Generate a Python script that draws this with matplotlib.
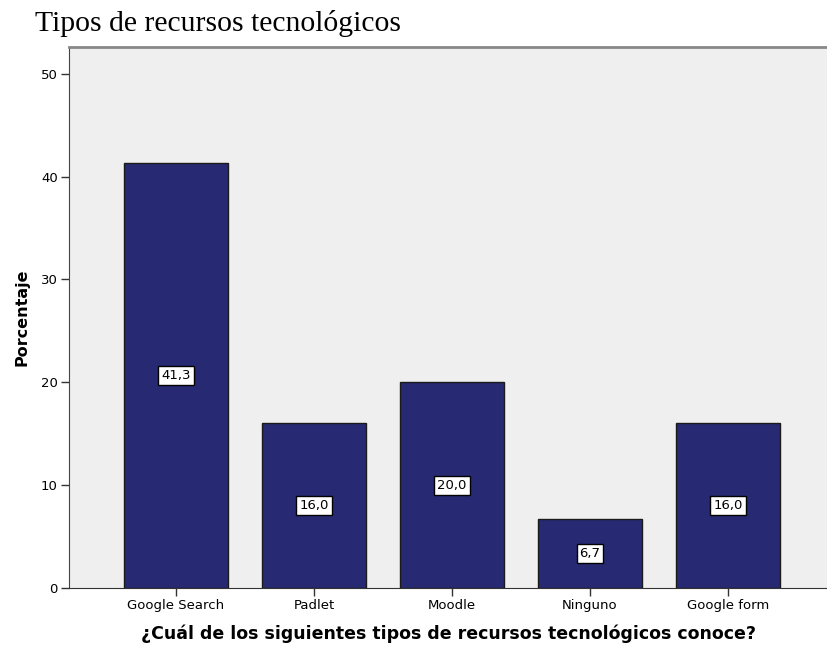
import matplotlib.pyplot as plt

categorias = ['Google Search', 'Padlet', 'Moodle', 'Ninguno', 'Google form']
porcentajes = [41.3, 16.0, 20.0, 6.7, 16.0]
etiquetas = ['41,3', '16,0', '20,0', '6,7', '16,0']
yticks = [0, 10, 20, 30, 40, 50]

fig = plt.figure(figsize=(8.28, 6.5), dpi=100)
ax = fig.add_axes([0.0833, 0.0954, 0.9167, 0.8323])
ax.set_facecolor('#efefef')

x = list(range(len(categorias)))
ax.bar(x, porcentajes, width=0.754, color='#272a73', edgecolor='#1a1a1a', linewidth=1, zorder=2)

# etiquetas en el centro de cada barra
for xi, v, txt in zip(x, porcentajes, etiquetas):
    ax.text(xi, v / 2, txt, ha='center', va='center', fontsize=9.5, color='black', zorder=3,
            bbox=dict(boxstyle='square,pad=0.22', facecolor='white', edgecolor='black', linewidth=1))

ax.set_xlim(-0.775, 4.725)
ax.set_ylim(0, 52.6)
ax.set_xticks(x)
ax.set_xticklabels(categorias, fontsize=9.5)
ax.set_yticks(yticks)
ax.set_yticklabels([str(t) for t in yticks], fontsize=9.5)
ax.tick_params(axis='both', length=6, width=1, color='#333333', pad=2)

ax.spines['right'].set_visible(False)
ax.spines['top'].set_color('#888888')
ax.spines['top'].set_linewidth(2)
ax.spines['left'].set_color('#444444')
ax.spines['bottom'].set_color('#333333')

ax.set_ylabel('Porcentaje', fontsize=11.5, fontweight='bold', labelpad=8)
ax.set_xlabel('¿Cuál de los siguientes tipos de recursos tecnológicos conoce?', fontsize=12.5,
              fontweight='bold', labelpad=9)

fig.text(0.042, 0.985, 'Tipos de recursos tecnológicos', family='Liberation Serif', fontsize=21.3,
         ha='left', va='top')

fig.savefig('out.png', dpi=100)
